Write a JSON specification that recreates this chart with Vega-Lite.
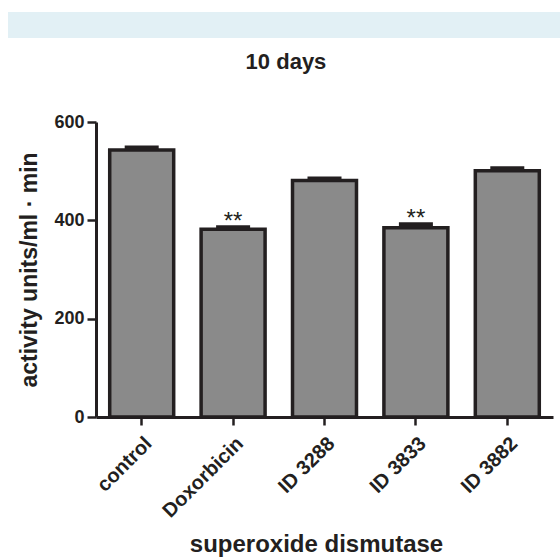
{
  "$schema": "https://vega.github.io/schema/vega-lite/v6.json",
  "padding": {"left": 8, "top": 12, "right": 0, "bottom": 0},
  "background": "white",
  "spacing": 13,
  "config": {
    "font": "Liberation Sans",
    "view": {"stroke": null},
    "concat": {"spacing": 0},
    "axis": {"domainColor": "#231f20", "tickColor": "#231f20", "labelColor": "#231f20", "titleColor": "#231f20", "grid": false, "labelFont": "Liberation Sans", "titleFont": "Liberation Sans", "labelFontWeight": "bold", "titleFontWeight": "bold"}
  },
  "vconcat": [
    {
      "width": 552,
      "height": 26,
      "data": {"values": [{"band": "top"}]},
      "mark": {"type": "rect", "fill": "#e2f0f5", "stroke": null},
      "encoding": {}
    },
    {
      "spacing": 0,
      "hconcat": [
        {
          "width": 10,
          "height": 10,
          "data": {"values": [{"band": "spacer"}]},
          "mark": {"type": "rect", "opacity": 0},
          "encoding": {}
        },
        {
          "width": 457,
          "height": 295,
          "title": {"text": "10 days", "fontSize": 22, "fontWeight": "bold", "color": "#231f20", "frame": "bounds", "anchor": "middle", "offset": 39},
          "data": {
            "values": [
              {"group": "control", "mean": 543, "upper": 547, "sig": ""},
              {"group": "Doxorbicin", "mean": 382, "upper": 385, "sig": "**"},
              {"group": "ID 3288", "mean": 481, "upper": 484, "sig": ""},
              {"group": "ID 3833", "mean": 385, "upper": 391, "sig": "**"},
              {"group": "ID 3882", "mean": 501, "upper": 505, "sig": ""}
            ]
          },
          "encoding": {
            "x": {
              "field": "group", "type": "nominal", "sort": null,
              "scale": {"paddingInner": 0.3, "paddingOuter": 0.15},
              "axis": {"title": "superoxide dismutase", "titleFontSize": 24, "titlePadding": 11, "titleX": 220, "labelFontSize": 20, "labelAngle": -45, "labelAlign": "right", "labelBaseline": "top", "labelPadding": 8, "tickSize": 8, "tickWidth": 2.5, "domainWidth": 3}
            }
          },
          "layer": [
            {
              "mark": {"type": "bar", "fill": "#8a8a8a", "stroke": "#231f20", "strokeWidth": 3.5},
              "encoding": {
                "y": {
                  "field": "mean", "type": "quantitative",
                  "scale": {"domain": [0, 600], "nice": false},
                  "axis": {"title": "activity units/ml · min", "titleFontSize": 23, "titlePadding": 12, "labelFontSize": 18, "values": [0, 200, 400, 600], "tickSize": 9, "tickWidth": 2.5, "domainWidth": 3, "labelPadding": 3}
                }
              }
            },
            {
              "mark": {"type": "tick", "color": "#231f20", "thickness": 5, "size": 34, "opacity": 1},
              "encoding": {"y": {"field": "upper", "type": "quantitative"}}
            },
            {
              "mark": {"type": "text", "fontSize": 24, "baseline": "alphabetic", "dy": 1, "color": "#231f20"},
              "encoding": {"y": {"field": "upper", "type": "quantitative"}, "text": {"field": "sig"}}
            }
          ]
        }
      ]
    }
  ]
}
